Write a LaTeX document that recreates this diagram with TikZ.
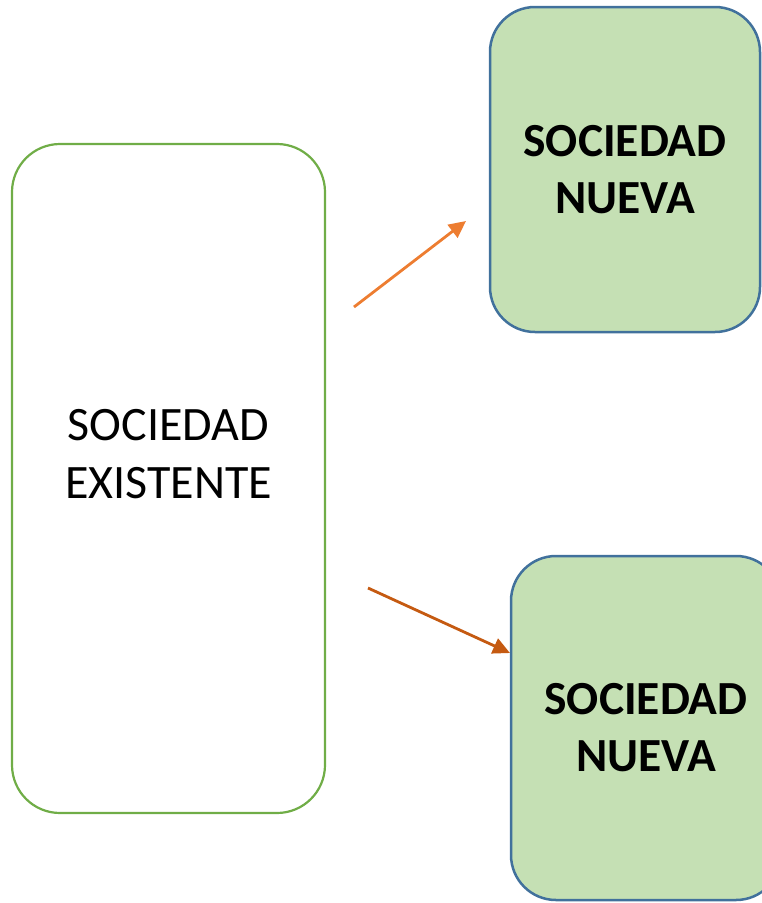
\documentclass[tikz,border=0pt]{standalone}
\usepackage{fontspec}
\setmainfont{Carlito}
\usetikzlibrary{arrows.meta}
\definecolor{leftgreen}{HTML}{70AD47}
\definecolor{boxfill}{HTML}{C5E0B4}
\definecolor{boxline}{HTML}{41719C}
\definecolor{arrowA}{HTML}{ED7D31}
\definecolor{arrowB}{HTML}{C55A11}
\tikzset{
  oldbox/.style={draw=leftgreen, line width=2.2pt, rounded corners=48pt, fill=white,
    minimum width=313pt, minimum height=669pt, inner sep=0pt},
  oldtext/.style={align=center, inner sep=0pt, font=\fontsize{48}{58}\selectfont},
  newbox/.style={draw=boxline, line width=2.5pt, rounded corners=45pt, fill=boxfill,
    minimum width=270pt, align=center, inner sep=0pt,
    font=\bfseries\fontsize{47.5}{57}\selectfont},
  conn/.style={line width=2.8pt, -{Triangle[length=17pt,width=16pt]}}
}
\begin{document}
\begin{tikzpicture}[x=1pt,y=-1pt]
\useasboundingbox (0,0) rectangle (762,903);
\clip (0,0) rectangle (762,903);
\node[oldbox] (old) at (168.5,478.5) {};
\node[oldtext] (oldlabel) at (168.5,454) {SOCIEDAD\\EXISTENTE};
\node[newbox, minimum height=325pt] (new1) at (625,169.5) {SOCIEDAD\\NUEVA};
\node[newbox, minimum height=344pt] (new2) at (646,728) {SOCIEDAD\\NUEVA};
\coordinate (a1s) at (354,307);
\coordinate (a1e) at (466,221);
\coordinate (a2s) at (368,588);
\coordinate (a2e) at (510,653);
\draw[conn, draw=arrowA, fill=arrowA] (a1s) -- (a1e);
\draw[conn, draw=arrowB, fill=arrowB] (a2s) -- (a2e);
\end{tikzpicture}
\end{document}
